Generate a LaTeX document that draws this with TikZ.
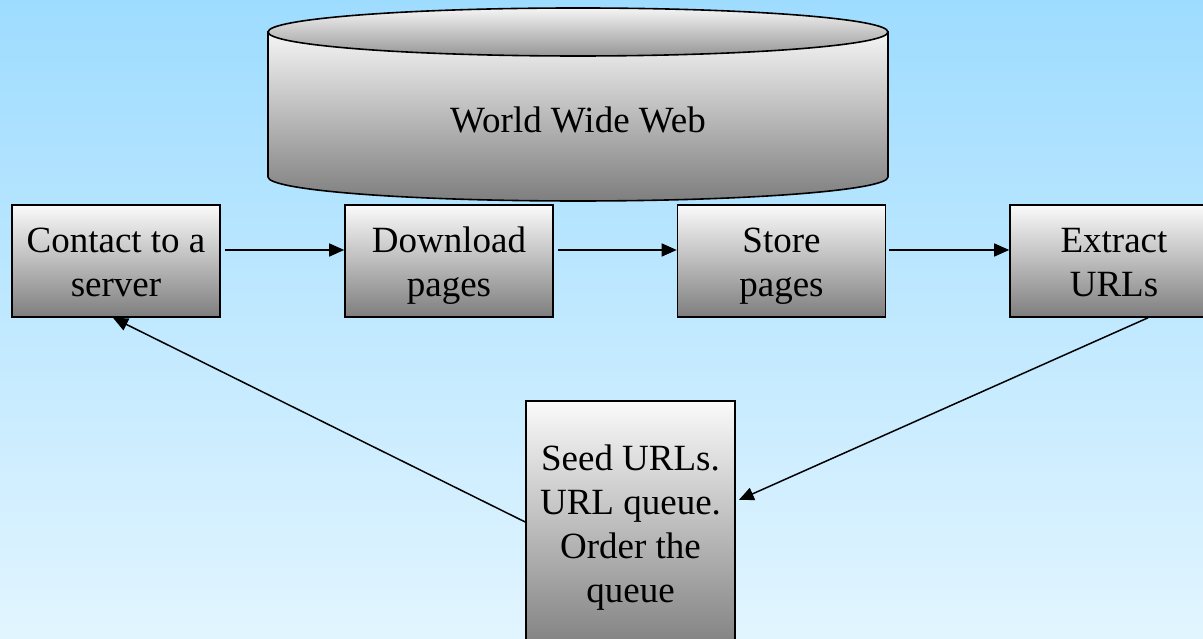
\documentclass[tikz,border=0pt]{standalone}
\usepackage{fontspec}
\setmainfont{Liberation Serif}
\usetikzlibrary{arrows.meta}
\definecolor{bgtop}{RGB}{158,220,255}
\definecolor{bgbot}{RGB}{226,245,255}
\definecolor{gtop}{RGB}{250,250,250}
\definecolor{gbot}{RGB}{126,126,126}
\definecolor{ctop}{RGB}{245,245,245}
\definecolor{cmid}{RGB}{150,150,150}
\newcommand{\myTopRule}{\rule{0pt}{36pt}}
\newcommand{\myBotRule}{\rule[-9pt]{0pt}{9pt}}
\begin{document}
\begin{tikzpicture}[x=1pt,y=1pt,
  box/.style={draw=black, line width=1.6pt, top color=gtop, bottom color=gbot,
    minimum width=208pt, minimum height=112pt, inner sep=0pt, align=center,
    font=\fontsize{37}{44}\selectfont},
  arr/.style={line width=1.5pt, -{Triangle[length=15pt,width=13pt]}},
  lbl/.style={font=\fontsize{37}{44}\selectfont}]
\useasboundingbox (0,0) rectangle (1203,639);
\clip (0,0) rectangle (1203,639);
\shade[top color=bgtop, bottom color=bgbot] (0,0) rectangle (1203,639);

% cylinder
\shade[top color=ctop, bottom color=gbot, draw=black, line width=1.6pt]
  (268,607) -- (268,462) arc[start angle=180, end angle=360, x radius=310, y radius=24]
  -- (888,607) -- cycle;
\shade[top color=ctop, bottom color=cmid, draw=black, line width=1.6pt]
  (578,607) ellipse[x radius=310, y radius=24];
\node[lbl] (www) at (578,519) {World Wide Web};

% boxes
\node[box] (c) at (116,378) {\myTopRule Contact to a\\server\myBotRule};
\node[box] (d) at (449,378) {\myTopRule Download\\pages\myBotRule};
\node[box] (s) at (781.5,378) {\myTopRule Store\\pages\myBotRule};
\node[box] (e) at (1114,378) {\myTopRule Extract\\URLs\myBotRule};
\node[box, minimum width=209pt, minimum height=253pt] (q) at (630.5,111.5)
  {Seed URLs.\\URL queue.\\Order the\\queue};

% connectors
\draw[arr] ([xshift=4pt,yshift=11pt]c.east) -- ([yshift=11pt]d.west);
\draw[arr] ([xshift=4pt,yshift=11pt]d.east) -- ([yshift=11pt]s.west);
\draw[arr] ([xshift=3pt,yshift=11pt]s.east) -- ([yshift=11pt]e.west);
\draw[arr] ([xshift=34pt]e.south) -- ([xshift=3pt,yshift=27.5pt]q.east);
\draw[arr] ([yshift=5.5pt]q.west) -- ([xshift=-3pt]c.south);
\end{tikzpicture}
\end{document}
